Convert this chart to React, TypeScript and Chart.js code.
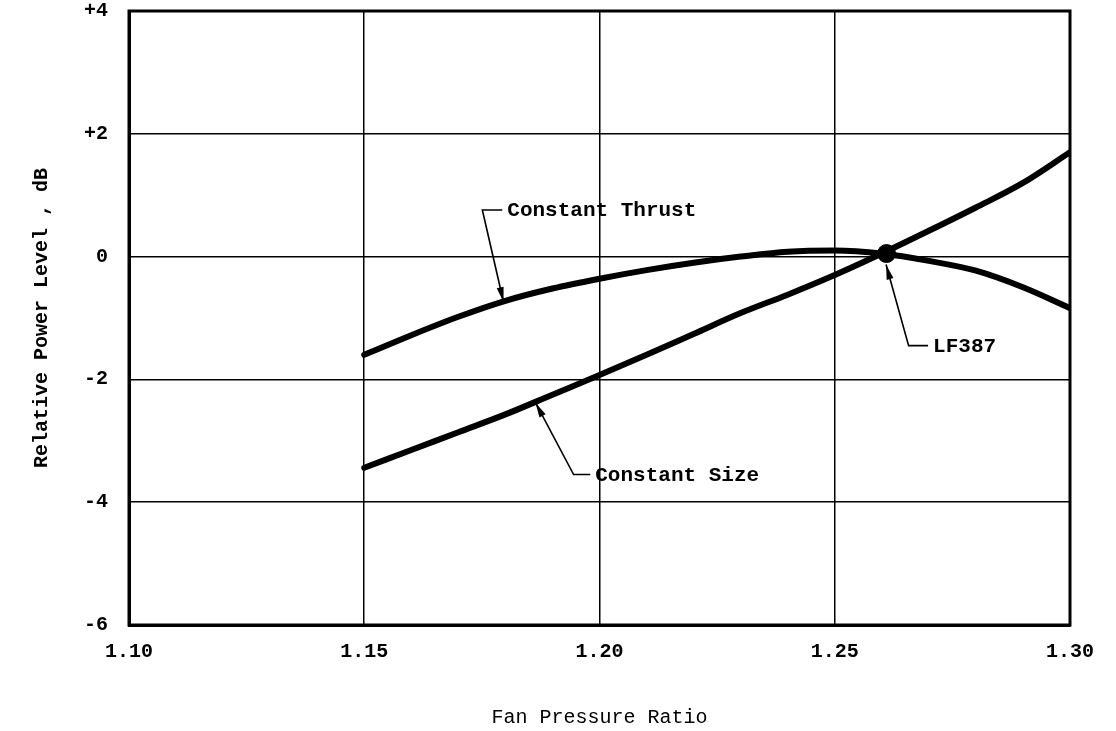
import React, { useEffect, useRef } from "react";
import { Chart, registerables } from "chart.js";

Chart.register(...registerables);

// ---- Data ----
const xTicks = [1.1, 1.15, 1.2, 1.25, 1.3];
const yTicks = [-6, -4, -2, 0, 2, 4];
const yTickLabels = ["-6", "-4", "-2", "0", "+2", "+4"];

const fanPressureRatio = [1.15, 1.16, 1.17, 1.18, 1.19, 1.2, 1.21, 1.22, 1.23, 1.24, 1.25, 1.26, 1.27, 1.28, 1.29, 1.3];
const constantThrustDb = [-1.6, -1.28, -0.98, -0.72, -0.52, -0.36, -0.22, -0.1, 0.0, 0.08, 0.1, 0.05, -0.07, -0.23, -0.5, -0.84];
const constantSizeDb = [-3.44, -3.15, -2.86, -2.57, -2.25, -1.93, -1.6, -1.26, -0.92, -0.62, -0.3, 0.05, 0.42, 0.8, 1.2, 1.7];

const designX = [1.261];
const designDb = [0.05];

const noteTexts = ["Constant Thrust", "Constant Size", "LF387"];
const noteTextX = [1.1804, 1.1991, 1.2709];
const noteTextY = [0.76, -3.55, -1.45];
const noteElbowX = [1.1751, 1.1945, 1.2657];
const noteTipX = [1.1796, 1.1864, 1.2609];
const noteTipY = [-0.74, -2.38, -0.13];

const FONT = '"Liberation Mono", "DejaVu Sans Mono", monospace';

const frame = {
  id: "frame",
  afterDraw(chart: any) {
    const { ctx, chartArea: a } = chart;
    ctx.save();
    ctx.strokeStyle = "#000";
    ctx.lineWidth = 3;
    ctx.strokeRect(a.left, a.top, a.right - a.left, a.bottom - a.top);
    ctx.restore();
  },
};

const notes = {
  id: "notes",
  afterDatasetsDraw(chart: any) {
    const { ctx } = chart;
    const x = chart.scales.x;
    const y = chart.scales.y;
    ctx.save();
    ctx.strokeStyle = "#000";
    ctx.fillStyle = "#000";
    ctx.lineWidth = 1.6;
    ctx.font = "bold 21px " + FONT;
    ctx.textBaseline = "middle";
    ctx.textAlign = "left";
    noteTexts.forEach((t, i) => {
      const tx = x.getPixelForValue(noteTextX[i]);
      const ty = y.getPixelForValue(noteTextY[i]);
      const ex = x.getPixelForValue(noteElbowX[i]);
      const px = x.getPixelForValue(noteTipX[i]);
      const py = y.getPixelForValue(noteTipY[i]);
      ctx.beginPath();
      ctx.moveTo(tx - 5, ty);
      ctx.lineTo(ex, ty);
      ctx.lineTo(px, py);
      ctx.stroke();
      const ang = Math.atan2(py - ty, px - ex);
      const L = 15;
      const W = 3.5;
      const bx = px - Math.cos(ang) * L;
      const by = py - Math.sin(ang) * L;
      ctx.beginPath();
      ctx.moveTo(px, py);
      ctx.lineTo(bx - Math.sin(ang) * W, by + Math.cos(ang) * W);
      ctx.lineTo(bx + Math.sin(ang) * W, by - Math.cos(ang) * W);
      ctx.closePath();
      ctx.fill();
      ctx.fillText(t, tx, ty + 1);
    });
    ctx.restore();
  },
};

export default function App() {
  const ref = useRef<HTMLCanvasElement>(null);
  useEffect(() => {
    if (!ref.current) return;
    const chart = new Chart(ref.current, {
      type: "line",
      data: {
        datasets: [
          {
            label: "Constant Thrust",
            data: fanPressureRatio.map((v, i) => ({ x: v, y: constantThrustDb[i] })),
            borderColor: "#000",
            borderWidth: 6,
            pointRadius: 0,
            cubicInterpolationMode: "monotone",
            borderCapStyle: "round",
          },
          {
            label: "Constant Size",
            data: fanPressureRatio.map((v, i) => ({ x: v, y: constantSizeDb[i] })),
            borderColor: "#000",
            borderWidth: 6,
            pointRadius: 0,
            cubicInterpolationMode: "monotone",
            borderCapStyle: "round",
          },
          {
            label: "LF387",
            data: designX.map((v, i) => ({ x: v, y: designDb[i] })),
            showLine: false,
            pointRadius: 9,
            pointBackgroundColor: "#000",
            pointBorderColor: "#000",
            borderColor: "#000",
          },
        ],
      },
      options: {
        animation: false,
        responsive: false,
        devicePixelRatio: 1,
        layout: { padding: { left: 0, top: 11, right: 46, bottom: 0 } },
        plugins: { legend: { display: false }, tooltip: { enabled: false } },
        scales: {
          x: {
            type: "linear",
            min: 1.1,
            max: 1.3,
            afterFit: (s: any) => {
              s.height = 106;
              s.paddingLeft = 0;
              s.paddingRight = 0;
            },
            afterBuildTicks: (s: any) => {
              s.ticks = xTicks.map((v) => ({ value: v }));
            },
            ticks: {
              callback: (v: any) => Number(v).toFixed(2),
              color: "#000",
              font: { family: FONT, size: 20, weight: "bold" },
              padding: 15,
              maxRotation: 0,
            },
            grid: { color: "#000", lineWidth: 1.5, drawTicks: false },
            border: { color: "#000", width: 3 },
            title: {
              display: true,
              text: "Fan Pressure Ratio",
              color: "#000",
              font: { family: FONT, size: 20 },
              padding: { top: 0, bottom: 1 },
            },
          },
          y: {
            type: "linear",
            min: -6,
            max: 4,
            afterFit: (s: any) => {
              s.width = 129;
              s.paddingTop = 0;
              s.paddingBottom = 0;
            },
            afterBuildTicks: (s: any) => {
              s.ticks = yTicks.map((v) => ({ value: v }));
            },
            ticks: {
              callback: (v: any) => yTickLabels[yTicks.indexOf(Number(v))],
              color: "#000",
              font: { family: FONT, size: 20, weight: "bold" },
              padding: 21,
            },
            grid: { color: "#000", lineWidth: 1.5, drawTicks: false },
            border: { color: "#000", width: 3 },
            title: {
              display: true,
              text: "Relative Power Level , dB",
              color: "#000",
              font: { family: FONT, size: 20, weight: "bold" },
              padding: { top: 30, bottom: 0 },
            },
          },
        },
      } as any,
      plugins: [frame, notes],
    });
    return () => chart.destroy();
  }, []);
  return (
    <div style={{ position: "absolute", left: 0, top: 0, width: 1116, height: 731, background: "#fff" }}>
      <canvas ref={ref} width={1116} height={731} />
    </div>
  );
}
